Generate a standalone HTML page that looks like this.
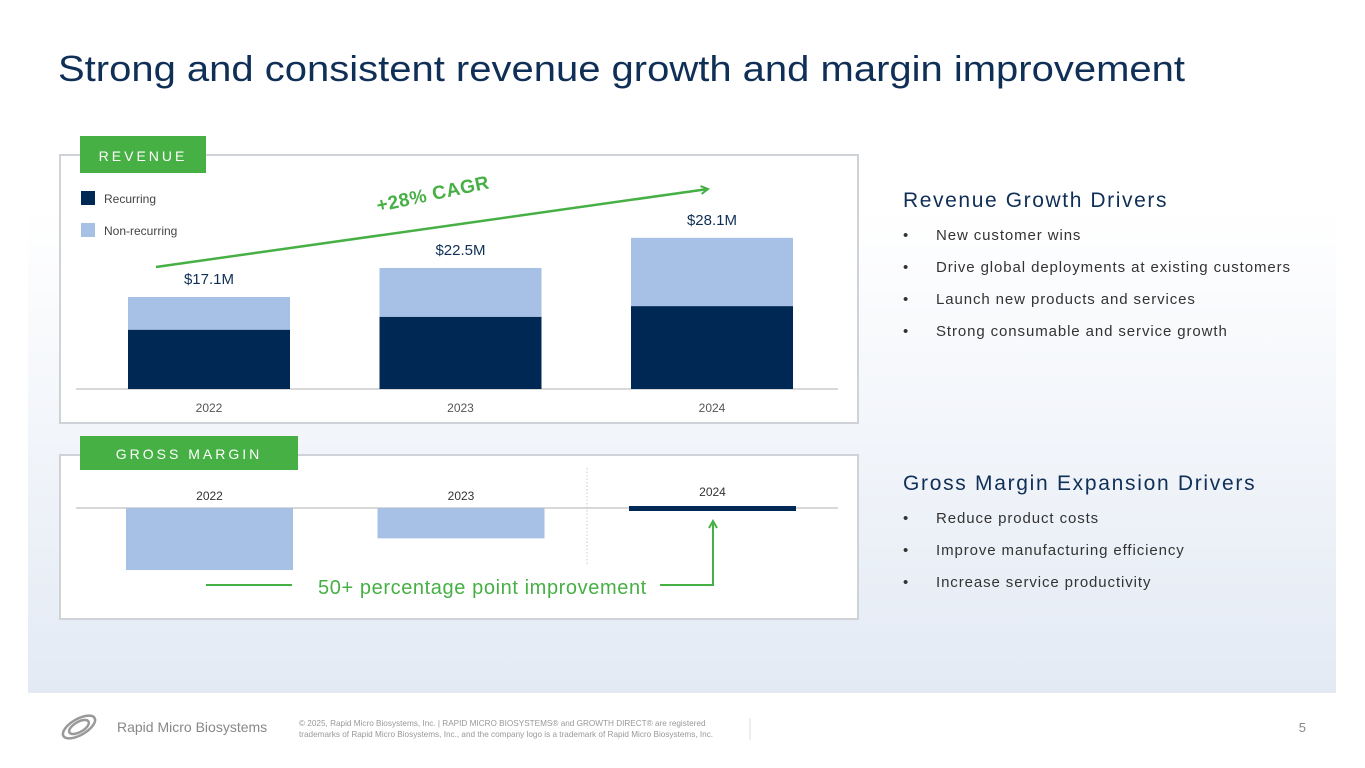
<!DOCTYPE html>
<html><head><meta charset="utf-8">
<style>
html,body{margin:0;padding:0;width:1365px;height:768px;overflow:hidden;background:#fff;font-family:"Liberation Sans",sans-serif;}
svg text{font-family:"Liberation Sans",sans-serif;}
</style></head>
<body>
<svg id="s" width="1365" height="768" viewBox="0 0 1365 768" xmlns="http://www.w3.org/2000/svg">
<defs>
<linearGradient id="bg" x1="0" y1="0" x2="0" y2="1">
<stop offset="0" stop-color="#ffffff"/>
<stop offset="0.3" stop-color="#ffffff"/>
<stop offset="1" stop-color="#e3eaf4"/>
</linearGradient>
<marker id="ah" markerWidth="10" markerHeight="10" refX="8" refY="5" orient="auto" markerUnits="userSpaceOnUse"><path d="M1,1 L8,5 L1,9" fill="none" stroke="#46b045" stroke-width="2"/></marker>
</defs>
<rect x="28" y="0" width="1308" height="693" fill="url(#bg)"/>
<text x="58" y="81" font-size="36" fill="#0f2f57" textLength="1127" lengthAdjust="spacingAndGlyphs">Strong and consistent revenue growth and margin improvement</text>

<!-- Revenue panel -->
<rect x="60" y="155" width="798" height="268" fill="#fff" stroke="#cfd3d8" stroke-width="2"/>
<rect x="80" y="136" width="126" height="37" fill="#46b045"/>
<text x="143" y="161" font-size="14" fill="#fff" text-anchor="middle" letter-spacing="3">REVENUE</text>
<rect x="81" y="191" width="14" height="14" fill="#002855"/>
<text x="104" y="203" font-size="12" fill="#444">Recurring</text>
<rect x="81" y="223" width="14" height="14" fill="#a6c1e5"/>
<text x="104" y="235" font-size="12" fill="#444">Non-recurring</text>
<line x1="76" y1="389" x2="838" y2="389" stroke="#ccc" stroke-width="1.5"/>
<g id="rev"></g>
<line x1="156" y1="267" x2="708" y2="189" stroke="#46b045" stroke-width="2.5" marker-end="url(#ah)"/>
<text x="378" y="212" font-size="19" font-weight="bold" fill="#46b045" letter-spacing="0.5" transform="rotate(-12 378 212)">+28% CAGR</text>

<!-- Gross margin panel -->
<rect x="60" y="455" width="798" height="164" fill="#fff" stroke="#cfd3d8" stroke-width="2"/>
<rect x="80" y="436" width="218" height="34" fill="#46b045"/>
<text x="189" y="459" font-size="14" fill="#fff" text-anchor="middle" letter-spacing="3">GROSS MARGIN</text>
<line x1="587" y1="468" x2="587" y2="566" stroke="#ccc" stroke-dasharray="1.5,2"/>
<line x1="76" y1="508" x2="838" y2="508" stroke="#ccc" stroke-width="1.5"/>
<g id="gm"></g>
<line x1="206" y1="585" x2="292" y2="585" stroke="#46b045" stroke-width="2"/>
<text x="318" y="594" font-size="20" fill="#46b045" letter-spacing="0.6">50+ percentage point improvement</text>
<path d="M660,585 L713,585 L713,521" fill="none" stroke="#46b045" stroke-width="2" marker-end="url(#ah)"/>

<!-- Right text -->
<text x="903" y="207" font-size="21" fill="#0f2f57" letter-spacing="1.6">Revenue Growth Drivers</text>
<g font-size="15" fill="#333" letter-spacing="0.9">
<text x="903" y="240">•</text><text x="936" y="240">New customer wins</text>
<text x="903" y="272">•</text><text x="936" y="272">Drive global deployments at existing customers</text>
<text x="903" y="304">•</text><text x="936" y="304">Launch new products and services</text>
<text x="903" y="336">•</text><text x="936" y="336">Strong consumable and service growth</text>
</g>
<text x="903" y="490" font-size="21" fill="#0f2f57" letter-spacing="1.7">Gross Margin Expansion Drivers</text>
<g font-size="15" fill="#333" letter-spacing="0.9">
<text x="903" y="523">•</text><text x="936" y="523">Reduce product costs</text>
<text x="903" y="555">•</text><text x="936" y="555">Improve manufacturing efficiency</text>
<text x="903" y="587">•</text><text x="936" y="587">Increase service productivity</text>
</g>

<!-- Footer -->
<g fill="none" stroke="#999" stroke-width="2.5">
<ellipse cx="79" cy="727" rx="18" ry="8" transform="rotate(-30 79 727)"/>
<ellipse cx="79" cy="727" rx="11" ry="5" transform="rotate(-30 79 727)"/>
</g>
<text x="117" y="732" font-size="14" fill="#888">Rapid Micro Biosystems</text>
<text x="299" y="726" font-size="8.2" fill="#999">© 2025, Rapid Micro Biosystems, Inc. | RAPID MICRO BIOSYSTEMS® and GROWTH DIRECT® are registered</text>
<text x="299" y="737" font-size="8.2" fill="#999">trademarks of Rapid Micro Biosystems, Inc., and the company logo is a trademark of Rapid Micro Biosystems, Inc.</text>
<line x1="750" y1="718" x2="750" y2="740" stroke="#ddd"/>
<text x="1306" y="732" font-size="13" fill="#888" text-anchor="end">5</text>
</svg>
<script>
var years = ["2022","2023","2024"];
var totalRevenue = [17.1, 22.5, 28.1];
var recurringRevenue = [11.0, 13.4, 15.4];
var revenueLabels = ["$17.1M","$22.5M","$28.1M"];
var grossMargin = [-47, -23, 3];

var NS = "http://www.w3.org/2000/svg";
function mk(tag, attrs, parent){var e=document.createElementNS(NS,tag);for(var k in attrs)e.setAttribute(k,attrs[k]);parent.appendChild(e);return e;}
var revBase = 389, revScale = 5.38;
function revY(v){return revBase - v*revScale;}
function bandX(i){return 128 + i*251.5;}
var revW = 162;
var rg = document.getElementById("rev");
for (var i=0;i<years.length;i++){
  var x = bandX(i);
  var nr = mk("rect",{x:x,y:revY(totalRevenue[i]),width:revW,height:revY(recurringRevenue[i])-revY(totalRevenue[i]),fill:"#a6c1e5"},rg);
  
  
  var r = mk("rect",{x:x,y:revY(recurringRevenue[i]),width:revW,height:revBase-revY(recurringRevenue[i]),fill:"#002855"},rg);
  
  
  var t = mk("text",{x:x+revW/2,y:revY(totalRevenue[i])-13,"font-size":"15","fill":"#0f2f57","text-anchor":"middle"},rg);
  t.textContent = revenueLabels[i];
  
  
  var xl = mk("text",{x:x+revW/2,y:412,"font-size":"12","fill":"#555","text-anchor":"middle"},rg);
  xl.textContent = years[i];
  
  
}
var gmBase = 508, gmScale = 1.32;
function gmY(v){return gmBase - v*gmScale;}
var gg = document.getElementById("gm");
var gmW = 167;
for (var j=0;j<years.length;j++){
  var gx = 126 + j*251.5;
  var y0 = Math.min(gmY(grossMargin[j]), gmBase), y1 = Math.max(gmY(grossMargin[j]), gmBase);
  var h = y1-y0, col = grossMargin[j] < 0 ? "#a6c1e5" : "#002855";
  if (grossMargin[j] >= 0){ h = Math.max(h,5); y0 = gmBase-2; }
  var b = mk("rect",{x:gx,y:y0,width:gmW,height:h,fill:col},gg);
  
  
  var ly = grossMargin[j] < 0 ? gmBase-8 : gmBase-12;
  var l = mk("text",{x:gx+gmW/2,y:ly,"font-size":"12","fill":"#333","text-anchor":"middle"},gg);
  l.textContent = years[j];
  
  
}
</script>
</body></html>
